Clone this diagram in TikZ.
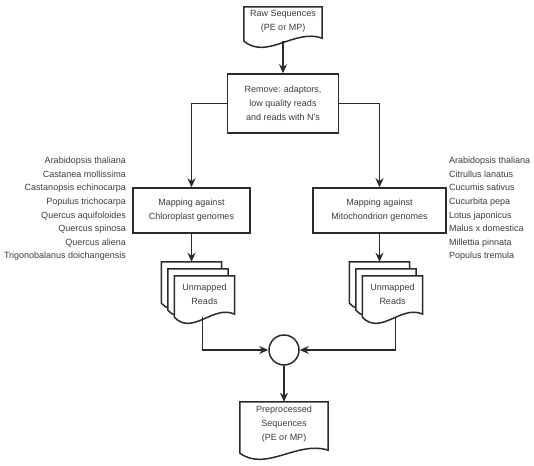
\documentclass[tikz,border=0pt]{standalone}
\usepackage{fontspec}
\setmainfont{Liberation Sans}
\usetikzlibrary{arrows.meta,calc}

\definecolor{inkgray}{HTML}{2B2B2B}
\definecolor{textgray}{HTML}{3C3C3C}

\tikzset{
    flowline/.style={draw=inkgray,line width=1.5pt},
    arrowline/.style={flowline,-{Stealth[length=9pt,width=8pt]}},
    boxnode/.style={draw=inkgray,line width=1.5pt,fill=white,text=textgray,
        align=center,font=\fontsize{9}{14}\selectfont,inner sep=0pt},
    docnode/.style={text=textgray,align=center,
        font=\fontsize{9}{14}\selectfont,inner sep=0pt},
    specnode/.style={text=textgray,font=\fontsize{9}{13.6}\selectfont,inner sep=0pt}
}

% outline of a document sheet with a wavy lower edge
\newcommand{\sheet}[1]{%
    \draw[flowline,fill=white] (#1.north west) -- (#1.north east)
        -- ($(#1.south east)+(0,-3)$)
        .. controls ($(#1.south west)!0.65!(#1.south east)+(0,-13)$)
        and ($(#1.south west)!0.3!(#1.south east)+(0,19)$) .. (#1.south west)
        -- cycle;}

\begin{document}
\begin{tikzpicture}[x=1pt,y=-1pt]
    \useasboundingbox (0,0) rectangle (534,465);

    % input
    \node[docnode,minimum width=78pt,minimum height=34pt] (raw) at (283,24) {};
    \sheet{raw}
    \node[docnode] (rawtext) at (283,21.5) {Raw Sequences\\(PE or MP)};

    \node[boxnode,minimum width=111pt,minimum height=59pt] (remove) at (283,103.5)
        {Remove: adaptors,\\low quality reads\\and reads with N's};

    % mapping
    \node[boxnode,minimum width=117pt,minimum height=45pt] (chloro) at (191.5,210.5)
        {Mapping against\\Chloroplast genomes};
    \node[boxnode,minimum width=133pt,minimum height=45pt] (mito) at (379.5,210.5)
        {Mapping against\\Mitochondrion genomes};

    \node[specnode,align=right,anchor=north east] (chlorolist) at (126,157)
        {Arabidopsis thaliana\\Castanea mollissima\\Castanopsis echinocarpa\\
         Populus trichocarpa\\Quercus aquifoloides\\Quercus spinosa\\
         Quercus aliena\\Trigonobalanus doichangensis};
    \node[specnode,align=left,anchor=north west] (mitolist) at (449,157)
        {Arabidopsis thaliana\\Citrullus lanatus\\Cucumis sativus\\
         Cucurbita pepa\\Lotus japonicus\\Malus x domestica\\
         Millettia pinnata\\Populus tremula};

    % unmapped reads, left stack
    \node[docnode,minimum width=60pt,minimum height=41pt] (readsL1) at (191.5,282.5) {};
    \node[docnode,minimum width=60pt,minimum height=41pt] (readsL2) at (198,289.5) {};
    \node[docnode,minimum width=60pt,minimum height=41pt] (readsL3) at (204.5,296.5) {};
    \sheet{readsL1}
    \sheet{readsL2}
    \sheet{readsL3}
    \node[docnode] (readsLtext) at (204.5,294) {Unmapped\\Reads};

    % unmapped reads, right stack
    \node[docnode,minimum width=60pt,minimum height=41pt] (readsR1) at (379.5,282.5) {};
    \node[docnode,minimum width=60pt,minimum height=41pt] (readsR2) at (386,289.5) {};
    \node[docnode,minimum width=60pt,minimum height=41pt] (readsR3) at (392.5,296.5) {};
    \sheet{readsR1}
    \sheet{readsR2}
    \sheet{readsR3}
    \node[docnode] (readsRtext) at (392.5,294) {Unmapped\\Reads};

    % merge and output
    \node[circle,flowline,minimum size=30pt,inner sep=0pt] (merge) at (284,350) {};

    \node[docnode,minimum width=88pt,minimum height=51pt] (prep) at (284,427.5) {};
    \sheet{prep}
    \node[docnode] (preptext) at (284,424) {Preprocessed\\Sequences\\(PE or MP)};

    % connectors
    \draw[arrowline] (raw.south) -- (remove.north);
    \draw[arrowline] (remove.west) -| (chloro.north);
    \draw[arrowline] (remove.east) -| (mito.north);
    \draw[arrowline] (chloro.south) -- (readsL1.north);
    \draw[arrowline] (mito.south) -- (readsR1.north);
    \draw[arrowline] ([xshift=-2pt]readsL3.south) |- (merge.west);
    \draw[arrowline] ([xshift=3pt]readsR3.south) |- (merge.east);
    \draw[arrowline] (merge.south) -- (prep.north);
\end{tikzpicture}
\end{document}
